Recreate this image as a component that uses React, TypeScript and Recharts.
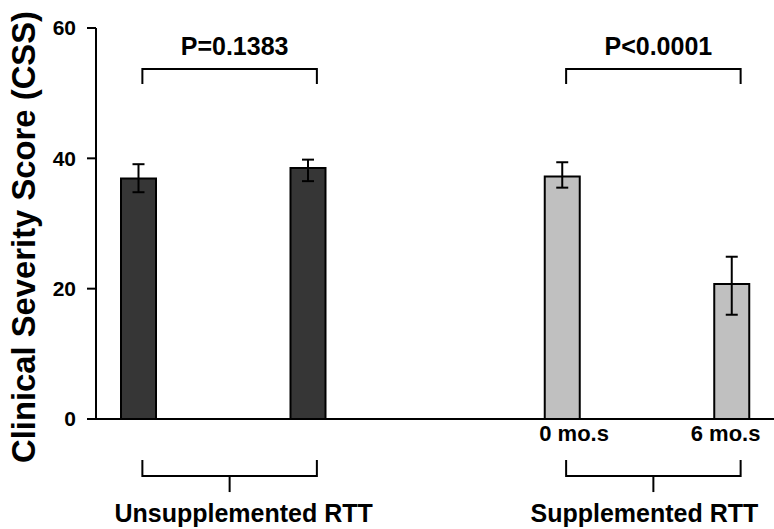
import React from 'react';
import { BarChart, Bar, XAxis, YAxis, ErrorBar, Cell, ReferenceLine } from 'recharts';

// ---- data ----
const slots = ['U0', 'gapA', 'U6', 'gapB', 'gapC', 'S0', 'gapD', 'S6'];
const tickLabels = ['', '', '', '', '', '0 mo.s', '', '6 mo.s'];
const groups = ['unsupp', null, 'unsupp', null, null, 'supp', null, 'supp'];
const means = [36.9, null, 38.5, null, null, 37.2, null, 20.7];
const errLow = [2.1, null, 2.0, null, null, 1.7, null, 4.7];
const errHigh = [2.2, null, 1.3, null, null, 2.2, null, 4.2];
const yTicks = [0, 20, 40, 60];
const pLabels = ['P=0.1383', 'P<0.0001'];
const groupLabels = ['Unsupplemented RTT', 'Supplemented RTT'];
const comparisonPairs = [['U0', 'U6'], ['S0', 'S6']];
const yAxisTitle = 'Clinical Severity Score (CSS)';
const topBracketLevel = 53.7;
const bottomBracketLevel = -6.3;

const data = slots.map((s, i) => ({
  slot: s,
  value: means[i],
  err: means[i] == null ? null : [errLow[i], errHigh[i]],
  group: groups[i],
}));

// ---- style ----
const FONT = "'Liberation Sans', Arial, sans-serif";
const NARROW = "'Liberation Sans Narrow', 'Arial Narrow', 'Liberation Sans', sans-serif";
const DARK = '#363636';
const LIGHT = '#c0c0c0';
const tickShift = [0, 0, 0, 0, 0, 12, 0, -6];
const groupLabelShift = [14, -9];

const XTick = (props: any) => {
  const { x, y, payload } = props;
  const i = payload.index;
  const label = tickLabels[i];
  if (!label) return null;
  return (
    <text x={x + tickShift[i]} y={y} dy={15} textAnchor="middle" fontFamily={FONT} fontWeight="bold" fontSize={22} fill="#000">
      {label}
    </text>
  );
};

const makeTopBracket = (label: string) => (p: any) => {
  const { x1, y1, x2 } = p;
  const xa = x1 + 4;
  const xb = x2 + 9;
  const mid = (xa + xb) / 2;
  return (
    <g>
      <path d={`M${xa},${y1 + 15} V${y1} H${xb} V${y1 + 15}`} stroke="#000" strokeWidth={2} fill="none" />
      <text x={mid + 5} y={y1 - 14.5} textAnchor="middle" fontFamily={FONT} fontWeight="bold" fontSize={25} fill="#000">
        {label}
      </text>
    </g>
  );
};

const makeBottomBracket = (label: string, shift: number) => (p: any) => {
  const { x1, y1, x2 } = p;
  const xa = x1 + 4;
  const xb = x2 + 9;
  const mid = (xa + xb) / 2;
  return (
    <g>
      <path d={`M${xa},${y1} V${y1 + 16} H${xb} V${y1}`} stroke="#000" strokeWidth={2} fill="none" />
      <path d={`M${mid},${y1 + 16} V${y1 + 32}`} stroke="#000" strokeWidth={2} fill="none" />
      <text x={mid + shift} y={y1 + 62} textAnchor="middle" fontFamily={FONT} fontWeight="bold" fontSize={25} fill="#000">
        {label}
      </text>
    </g>
  );
};

const YTitle = (props: any) => {
  const vb = props.viewBox || { x: 0, y: 28, width: 96, height: 391 };
  const x = vb.x + 35;
  const y = vb.y + vb.height + 44;
  return (
    <text
      x={x}
      y={y}
      transform={`rotate(-90 ${x} ${y})`}
      textAnchor="start"
      fontFamily={NARROW}
      fontWeight="bold"
      fontSize={33}
      textLength={452}
      lengthAdjust="spacingAndGlyphs"
      fill="#000"
    >
      {yAxisTitle}
    </text>
  );
};

export default function App() {
  return (
    <div style={{ position: 'absolute', left: 0, top: 0, width: 774, height: 529, background: '#fff' }}>
      <BarChart width={774} height={529} data={data} margin={{ top: 28, right: 0, bottom: 0, left: 0 }}>
        <XAxis
          dataKey="slot"
          interval={0}
          height={110}
          tickLine={false}
          tickSize={0}
          tickMargin={7}
          axisLine={{ stroke: '#000', strokeWidth: 2 }}
          tick={<XTick />}
        />
        <YAxis
          domain={[0, 60]}
          ticks={yTicks}
          width={96}
          tickSize={9}
          tickMargin={11}
          axisLine={{ stroke: '#000', strokeWidth: 2 }}
          tickLine={{ stroke: '#000', strokeWidth: 2 }}
          tick={{ fontFamily: FONT, fontWeight: 'bold', fontSize: 21, fill: '#000' }}
          label={{ content: (p: any) => <YTitle {...p} /> }}
        />
        <Bar dataKey="value" barSize={35} stroke="#000" strokeWidth={2} isAnimationActive={false}>
          {data.map((d, i) => (
            <Cell key={i} fill={d.group === 'supp' ? LIGHT : DARK} />
          ))}
          <ErrorBar dataKey="err" width={6} stroke="#000" strokeWidth={2} isAnimationActive={false} />
        </Bar>
        {comparisonPairs.map((pair, i) => (
          <ReferenceLine
            key={`top-${i}`}
            segment={[{ x: pair[0], y: topBracketLevel }, { x: pair[1], y: topBracketLevel }]}
            ifOverflow="visible"
            shape={makeTopBracket(pLabels[i])}
          />
        ))}
        {comparisonPairs.map((pair, i) => (
          <ReferenceLine
            key={`bot-${i}`}
            segment={[{ x: pair[0], y: bottomBracketLevel }, { x: pair[1], y: bottomBracketLevel }]}
            ifOverflow="visible"
            shape={makeBottomBracket(groupLabels[i], groupLabelShift[i])}
          />
        ))}
      </BarChart>
    </div>
  );
}
